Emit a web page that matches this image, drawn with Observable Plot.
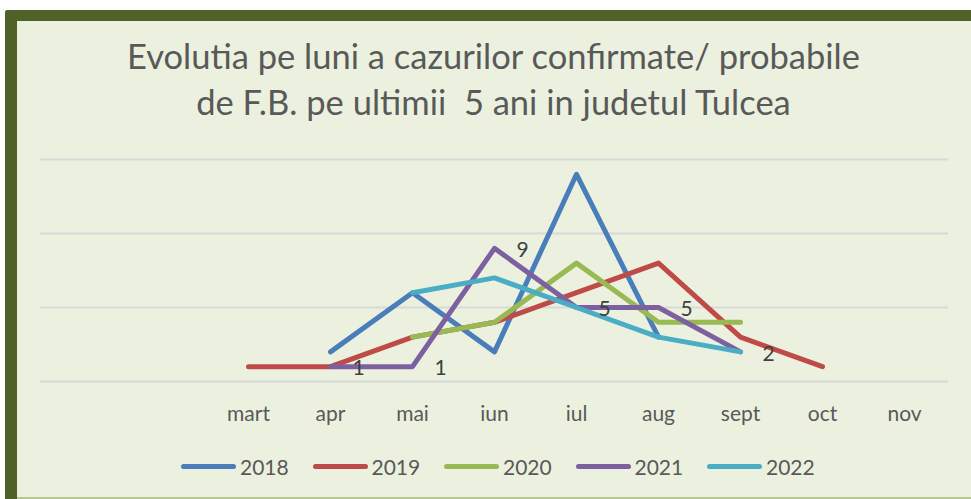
<!DOCTYPE html>
<html>
<head>
<meta charset="utf-8">
<script src="https://cdn.jsdelivr.net/npm/d3@7"></script>
<script src="https://cdn.jsdelivr.net/npm/@observablehq/plot@0.6"></script>
<style>
  html, body { margin: 0; padding: 0; background: #ffffff; width: 971px; height: 499px; overflow: hidden; }
  body { position: relative; font-family: Lato, "Open Sans", sans-serif; }
  #frame { position: absolute; left: 5px; top: 10px; width: 966px; height: 489px; box-sizing: border-box;
           background: #ebf1de; border-top: 11px solid #4f6228; border-left: 12px solid #4f6228; border-top-left-radius: 3px; }
  #bottomline { position: absolute; left: 17px; top: 497px; width: 954px; height: 2px; background: #b7c78f; }
  #title { position: absolute; left: 8px; top: 33px; width: 971px; text-align: center; color: #595959;
           font-size: 34.5px; line-height: 46px; white-space: pre; }
  #chart { position: absolute; left: 0; top: 130px; }
  #legend { position: absolute; left: 181px; top: 453px; height: 26px; display: flex; align-items: center; }
  .item { display: flex; align-items: center; width: 131.5px; }
  .sw { width: 55px; height: 5px; border-radius: 3px; margin-right: 4px; }
  .lab { font-size: 21px; color: #595959; }
</style>
</head>
<body>
<div id="frame"></div>
<div id="bottomline"></div>
<div id="title"></div>
<div id="chart"></div>
<div id="legend"></div>
<script>
const titleLines = ["Evolutia pe luni a cazurilor confirmate/ probabile", "de F.B. pe ultimii  5 ani in judetul Tulcea"];
const months = ["mart", "apr", "mai", "iun", "iul", "aug", "sept", "oct", "nov"];
const years = ["2018", "2019", "2020", "2021", "2022"];
const colors = ["#4a7ebb", "#be4b48", "#98b954", "#7d60a0", "#4bacc6"];
const s2018 = [null, 2, 6, 2, 14, 3, null, null, null];
const s2019 = [1, 1, 3, 4, 6, 8, 3, 1, null];
const s2020 = [null, null, 3, 4, 8, 4, 4, null, null];
const s2021 = [null, 1, 1, 9, 5, 5, 2, null, null];
const s2022 = [null, null, 6, 7, 5, 3, 2, null, null];
const gridValues = [0, 5, 10, 15];
const labeledYear = "2021";

const seriesList = [s2018, s2019, s2020, s2021, s2022];
const rows = [];
years.forEach((yr, i) => {
  seriesList[i].forEach((v, j) => { if (v !== null) rows.push({ year: yr, month: months[j], value: v }); });
});
const labelRows = rows.filter(d => d.year === labeledYear);

document.getElementById("title").textContent = titleLines.join("\n");

const plot = Plot.plot({
  width: 971,
  height: 300,
  marginLeft: 246,
  marginRight: 65,
  marginTop: 29,
  marginBottom: 49,
  style: { background: "transparent", fontFamily: "Lato, 'Open Sans', sans-serif", overflow: "visible" },
  x: { type: "point", domain: months, padding: 0, axis: null, label: null },
  y: { domain: [0, 15], axis: null },
  color: { domain: years, range: colors },
  marks: [
    Plot.ruleY(gridValues, { stroke: "#d9d9d9", strokeWidth: 2, insetLeft: -206, insetRight: -42 }),
    Plot.axisX({ tickSize: 0, tickPadding: 25, fontSize: 21, color: "#595959", label: null }),
    Plot.line(rows, { x: "month", y: "value", z: "year", stroke: "year", strokeWidth: 5,
                      strokeLinecap: "round", strokeLinejoin: "round" }),
    Plot.text(labelRows, { x: "month", y: "value", text: d => String(d.value), dx: 28, dy: 2,
                           fontSize: 21, fill: "#404040" })
  ]
});
document.getElementById("chart").appendChild(plot);

const legend = document.getElementById("legend");
years.forEach((yr, i) => {
  const it = document.createElement("div");
  it.className = "item";
  const sw = document.createElement("div");
  sw.className = "sw";
  sw.style.background = colors[i];
  const lab = document.createElement("span");
  lab.className = "lab";
  lab.textContent = yr;
  it.appendChild(sw);
  it.appendChild(lab);
  legend.appendChild(it);
});
</script>
</body>
</html>
